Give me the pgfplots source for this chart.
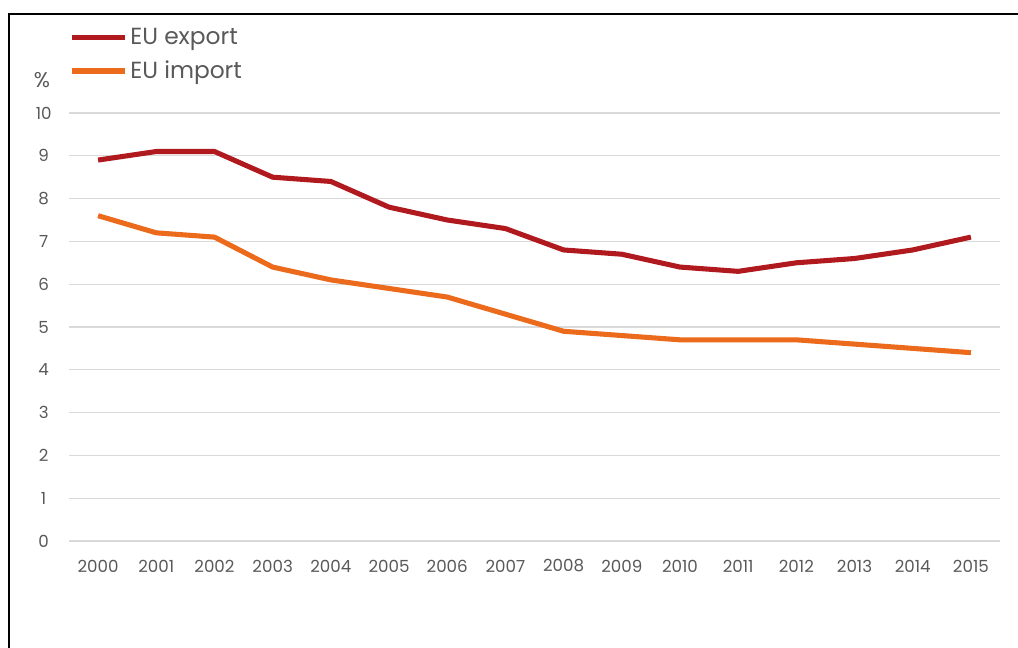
\documentclass[border=0pt]{standalone}
\usepackage{pgfplots}
\pgfplotsset{compat=1.18}
\usepackage{fontspec}
\setmainfont{Poppins}
\definecolor{exportred}{RGB}{176,26,30}
\definecolor{importorange}{RGB}{236,106,28}
\definecolor{txtgray}{RGB}{89,89,89}
\definecolor{gridgray}{RGB}{217,217,217}
\begin{document}
\begin{tikzpicture}
\path[use as bounding box] (0,0) rectangle (763.5pt,486pt);
\draw[line width=2pt] (6.75pt,0pt) -- (6.75pt,475.5pt) -- (763.5pt,475.5pt);
\begin{axis}[
 at={(51.75pt,80.25pt)}, anchor=south west,
 scale only axis, width=698.25pt, height=321pt,
 xmin=1999.5, xmax=2015.5, ymin=0, ymax=10,
 xtick=data, ytick={0,1,...,10},
 axis line style={draw=none}, major tick length=0pt,
 ymajorgrids, grid style={gridgray, line width=0.8pt},
 tick label style={font=\fontsize{12.5}{15}\selectfont, text=txtgray},
 /pgf/number format/assume math mode=true,
 /pgf/number format/1000 sep={},
 xticklabel style={anchor=center, yshift=-18.75pt},
 yticklabel style={anchor=center, xshift=-19pt},
 legend cell align=left,
 legend style={at={(rel axis cs:0.0,1.205)}, anchor=north west, draw=none, fill=none,
   inner sep=0pt, row sep=7pt, font=\fontsize{17.5}{21}\selectfont, text=txtgray,
   /tikz/every even column/.append style={column sep=3pt}},
 legend image code/.code={\draw[#1, line width=3.8pt] (0pt,0pt) -- (40pt,0pt);},
]
\addplot[exportred, line width=3.8pt, line join=round] coordinates {
(2000,8.9) (2001,9.1) (2002,9.1) (2003,8.5) (2004,8.4) (2005,7.8) (2006,7.5) (2007,7.3)
(2008,6.8) (2009,6.7) (2010,6.4) (2011,6.3) (2012,6.5) (2013,6.6) (2014,6.8) (2015,7.1)};
\addlegendentry{EU export}
\addplot[importorange, line width=3.8pt, line join=round] coordinates {
(2000,7.6) (2001,7.2) (2002,7.1) (2003,6.4) (2004,6.1) (2005,5.9) (2006,5.7) (2007,5.3)
(2008,4.9) (2009,4.8) (2010,4.7) (2011,4.7) (2012,4.7) (2013,4.6) (2014,4.5) (2015,4.4)};
\addlegendentry{EU import}
\end{axis}
\node[text=txtgray, font=\fontsize{16}{18}\selectfont] at (31.5pt,426pt) {\%};
\end{tikzpicture}
\end{document}
